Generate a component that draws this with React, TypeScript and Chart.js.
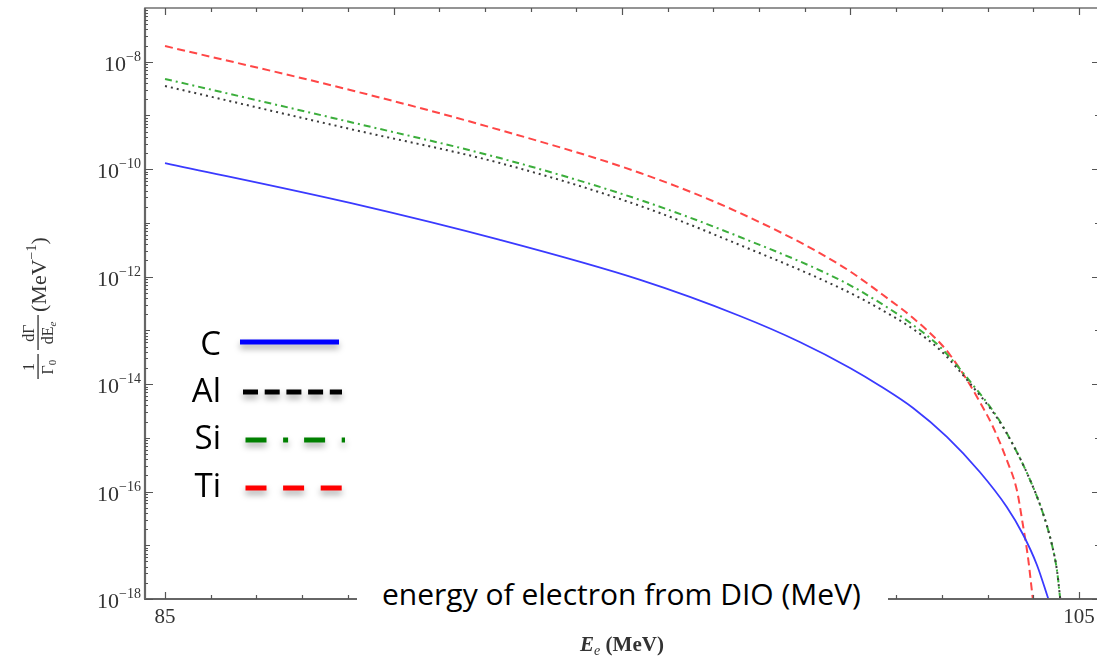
import React, { useEffect, useRef } from "react";
import { Chart, registerables } from "chart.js";

Chart.register(...registerables);

// ---- data ----
const energyC = [85.0, 89.05, 92.33, 95.4, 97.58, 98.89, 99.99, 100.65, 101.37, 102.11, 102.83, 103.42, 103.77, 104.08, 104.33];
const valueC = [1.3e-10, 2.35e-11, 4.81e-12, 8.67e-13, 1.85e-13, 6.08e-14, 2.0e-14, 9.23e-15, 3.59e-15, 1.04e-15, 2.31e-16, 5.16e-17, 1.62e-17, 4.3e-18, 1e-18];

const energyAl = [85.0, 89.05, 92.33, 95.4, 97.58, 99.77, 100.65, 101.37, 101.96, 102.68, 103.21, 103.56, 103.93, 104.21, 104.41, 104.52, 104.59];
const valueAl = [3.53e-9, 5.6e-10, 1.3e-10, 2.07e-11, 3.88e-12, 6.15e-13, 2.5e-13, 1.06e-13, 4.31e-14, 8.83e-15, 2.34e-15, 7.36e-16, 1.64e-16, 3.99e-17, 1.01e-17, 3.33e-18, 1e-18];

const energySi = [85.0, 89.05, 92.33, 95.4, 97.58, 99.77, 100.65, 101.37, 101.96, 102.68, 103.21, 103.56, 103.93, 104.21, 104.41, 104.52, 104.59];
const valueSi = [4.78e-9, 7.55e-10, 1.61e-10, 2.67e-11, 5.47e-12, 8.67e-13, 3.24e-13, 1.26e-13, 4.91e-14, 9.6e-15, 2.44e-15, 7.36e-16, 1.64e-16, 3.99e-17, 1.01e-17, 3.33e-18, 1e-18];

const energyTi = [85.0, 89.05, 92.33, 95.4, 97.58, 99.77, 100.86, 101.37, 101.96, 102.18, 102.55, 102.83, 103.12, 103.42, 103.64, 103.77, 103.88, 103.99];
const valueTi = [1.96e-8, 2.98e-9, 5.36e-10, 8.49e-11, 1.53e-11, 1.65e-12, 3.67e-13, 1.7e-13, 5.82e-14, 3.48e-14, 1.19e-14, 4.65e-15, 1.59e-15, 3.87e-16, 1.07e-16, 2.49e-17, 6.32e-18, 1e-18];

const seriesNames = ["C", "Al", "Si", "Ti"];
const xTickLabels = [85, 90, 95, 100, 105];
const yLabelExponents = [-8, -10, -12, -14, -16, -18];
const overlayTitle = "energy of electron from DIO (MeV)";

const X_MIN = 84.562;
const X_MAX = 105.46;
const Y_MIN = 1e-18;
const Y_MAX = 1e-7;

const CANVAS_W = 1110;
const CANVAS_H = 663;

const SERIF = '"Liberation Serif", "DejaVu Serif", serif';
const TEXT = "#333";

function pts(xs: number[], ys: number[]) {
  return xs.map((x, i) => ({ x, y: ys[i] }));
}

function drawRuns(ctx: CanvasRenderingContext2D, runs: { t: string; font: string; dy: number }[], x: number, y: number, align: "left" | "center" | "right") {
  let total = 0;
  for (const r of runs) {
    ctx.font = r.font;
    total += ctx.measureText(r.t).width;
  }
  let cx = align === "left" ? x : align === "center" ? x - total / 2 : x - total;
  ctx.textAlign = "left";
  ctx.textBaseline = "alphabetic";
  for (const r of runs) {
    ctx.font = r.font;
    ctx.fillText(r.t, cx, y + r.dy);
    cx += ctx.measureText(r.t).width;
  }
}

const framePlugin = {
  id: "framePlugin",
  afterDatasetsDraw(chart: any) {
    const { ctx, chartArea: a, scales } = chart;
    const xs = scales.x;
    const ys = scales.y;
    ctx.save();

    // frame
    ctx.strokeStyle = "#7a7a7a";
    ctx.lineWidth = 1.6;
    ctx.strokeRect(a.left, a.top, a.right - a.left, a.bottom - a.top);
    ctx.strokeStyle = "#666";
    ctx.lineWidth = 2.2;
    ctx.beginPath();
    ctx.moveTo(a.left - 1, a.bottom);
    ctx.lineTo(a.right, a.bottom);
    ctx.moveTo(a.left, a.top);
    ctx.lineTo(a.left, a.bottom);
    ctx.stroke();

    // ticks
    ctx.strokeStyle = "#555";
    ctx.lineWidth = 1.2;
    ctx.beginPath();
    for (let v = 85; v <= 105; v++) {
      const px = Math.round(xs.getPixelForValue(v)) + 0.5;
      const len = v % 5 === 0 ? 7 : 4;
      ctx.moveTo(px, a.bottom);
      ctx.lineTo(px, a.bottom - len);
      ctx.moveTo(px, a.top);
      ctx.lineTo(px, a.top + len);
    }
    for (let e = -18; e <= -8; e++) {
      for (let k = 1; k <= 9; k++) {
        const val = k * Math.pow(10, e);
        if (val > Y_MAX * 1.0001) continue;
        const py = Math.round(ys.getPixelForValue(val)) + 0.5;
        const len = k === 1 ? (e % 2 === 0 ? 8 : 5) : 3;
        ctx.moveTo(a.left, py);
        ctx.lineTo(a.left + len, py);
        ctx.moveTo(a.right, py);
        ctx.lineTo(a.right - len, py);
      }
    }
    ctx.stroke();

    ctx.fillStyle = TEXT;
    // x tick labels
    ctx.font = `21px ${SERIF}`;
    ctx.textAlign = "center";
    ctx.textBaseline = "alphabetic";
    for (const v of xTickLabels) {
      ctx.fillText(String(v), xs.getPixelForValue(v), a.bottom + 24);
    }

    // y tick labels 10^e
    for (const e of yLabelExponents) {
      const py = ys.getPixelForValue(Math.pow(10, e));
      drawRuns(
        ctx,
        [
          { t: "10", font: `22px ${SERIF}`, dy: 9 },
          { t: "\u2212" + Math.abs(e), font: `14px ${SERIF}`, dy: -1 },
        ],
        a.left - 4,
        py,
        "right"
      );
    }

    // x axis title  E_e (MeV)
    drawRuns(
      ctx,
      [
        { t: "E", font: `italic bold 21px ${SERIF}`, dy: 0 },
        { t: "e", font: `italic 14px ${SERIF}`, dy: 4 },
        { t: " (MeV)", font: `bold 21px ${SERIF}`, dy: 0 },
      ],
      622,
      651,
      "center"
    );

    // y axis title (rotated fraction)
    ctx.save();
    ctx.translate(38, 303);
    ctx.rotate(-Math.PI / 2);
    ctx.fillStyle = TEXT;
    drawRuns(ctx, [{ t: "1", font: `16px ${SERIF}`, dy: 0 }], -64, -4, "center");
    drawRuns(
      ctx,
      [
        { t: "\u0393", font: `16px ${SERIF}`, dy: 0 },
        { t: "0", font: `11px ${SERIF}`, dy: 3 },
      ],
      -64,
      15,
      "center"
    );
    ctx.fillRect(-76, -0.6, 25, 1.3);
    drawRuns(ctx, [{ t: "d\u0393", font: `16px ${SERIF}`, dy: 0 }], -30, -4, "center");
    drawRuns(
      ctx,
      [
        { t: "dE", font: `16px ${SERIF}`, dy: 0 },
        { t: "e", font: `italic 11px ${SERIF}`, dy: 3 },
      ],
      -30,
      15,
      "center"
    );
    ctx.fillRect(-47, -0.6, 35, 1.3);
    drawRuns(
      ctx,
      [
        { t: "(MeV", font: `22px ${SERIF}`, dy: 0 },
        { t: "\u22121", font: `14px ${SERIF}`, dy: -10 },
        { t: ")", font: `22px ${SERIF}`, dy: 0 },
      ],
      -9,
      8,
      "left"
    );
    ctx.restore();

    ctx.restore();
  },
};

function LegendLines() {
  return (
    <svg
      width={400}
      height={520}
      style={{
        position: "absolute",
        left: 0,
        top: 0,
        filter: "drop-shadow(0px 4px 3px rgba(0,0,0,0.35))",
        pointerEvents: "none",
      }}
    >
      <line x1={240} x2={339} y1={342} y2={342} stroke="#0000ff" strokeWidth={5} />
      <line x1={243} x2={342} y1={392} y2={392} stroke="#000000" strokeWidth={5} strokeDasharray="15 6.7" />
      <line x1={245.5} x2={345} y1={440} y2={440} stroke="#008000" strokeWidth={5} strokeDasharray="21 16.6 5 16" />
      <line x1={245.5} x2={342} y1={488} y2={488} stroke="#ff0000" strokeWidth={5} strokeDasharray="21 16.6" />
    </svg>
  );
}

const legendBaselines = [354.5, 401.5, 448.5, 496.5];

export default function App() {
  const canvasRef = useRef<HTMLCanvasElement | null>(null);

  useEffect(() => {
    const canvas = canvasRef.current;
    if (!canvas) return;
    const common = { pointRadius: 0, cubicInterpolationMode: "monotone", clip: 0 };
    const chart = new Chart(canvas, {
      type: "line",
      data: {
        datasets: [
          { ...common, label: seriesNames[0], data: pts(energyC, valueC), borderColor: "#3a3aff", borderWidth: 1.8 },
          { ...common, label: seriesNames[1], data: pts(energyAl, valueAl), borderColor: "#3a3a3a", borderWidth: 2, borderDash: [2, 4] },
          { ...common, label: seriesNames[2], data: pts(energySi, valueSi), borderColor: "#3cae3c", borderWidth: 2, borderDash: [7, 4, 2, 4] },
          { ...common, label: seriesNames[3], data: pts(energyTi, valueTi), borderColor: "#ff4646", borderWidth: 2, borderDash: [8, 4.5] },
        ],
      } as any,
      options: {
        responsive: false,
        maintainAspectRatio: false,
        animation: false,
        layout: { padding: { left: 145, top: 8, right: CANVAS_W - 1100, bottom: CANVAS_H - 599 } },
        plugins: { legend: { display: false }, tooltip: { enabled: false } },
        scales: {
          x: { type: "linear", min: X_MIN, max: X_MAX, display: false },
          y: { type: "logarithmic", min: Y_MIN, max: Y_MAX, display: false },
        },
      } as any,
      plugins: [framePlugin],
    });
    return () => chart.destroy();
  }, []);

  return (
    <div
      style={{
        position: "fixed",
        left: 0,
        top: 0,
        width: 1097,
        height: 663,
        overflow: "hidden",
        background: "#fff",
      }}
    >
      <canvas ref={canvasRef} width={CANVAS_W} height={CANVAS_H} style={{ display: "block", width: CANVAS_W, height: CANVAS_H }} />
      <LegendLines />
      {seriesNames.map((n, i) => (
        <div
          key={n}
          style={{
            position: "absolute",
            right: 1097 - 221,
            top: legendBaselines[i] - 35,
            font: '33px "Open Sans", sans-serif',
            lineHeight: "normal",
            color: "#000",
            whiteSpace: "nowrap",
          }}
        >
          {n}
        </div>
      ))}
      <div
        style={{
          position: "absolute",
          left: 357,
          top: 569,
          width: 531,
          height: 56,
          background: "#fff",
        }}
      />
      <div
        style={{
          position: "absolute",
          left: 382,
          top: 573,
          font: '30px "Open Sans", sans-serif',
          lineHeight: "normal",
          color: "#000",
          whiteSpace: "nowrap",
        }}
      >
        {overlayTitle}
      </div>
    </div>
  );
}
